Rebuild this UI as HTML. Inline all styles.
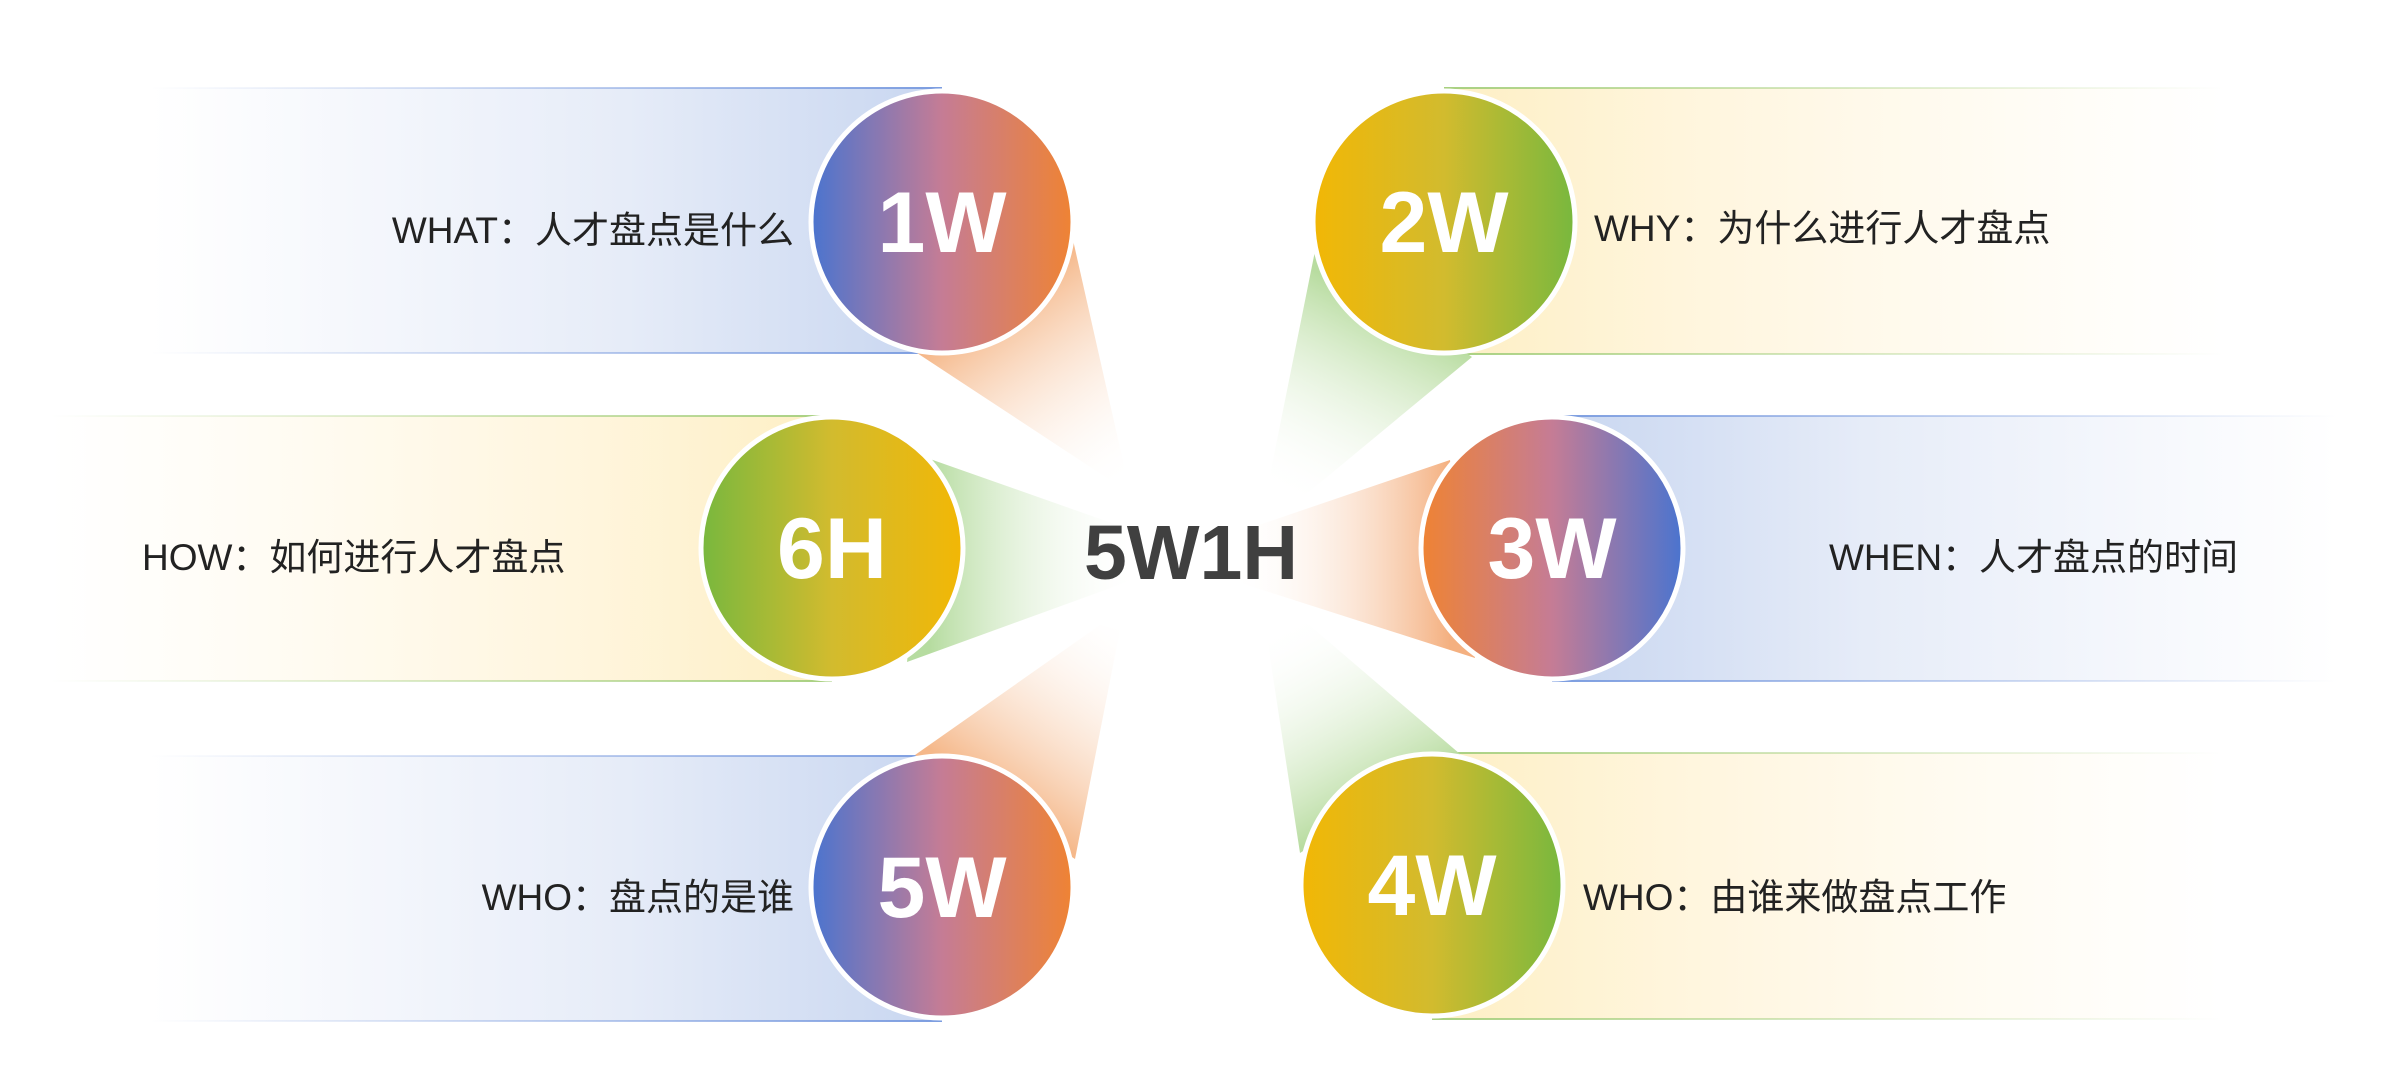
<!DOCTYPE html>
<html><head><meta charset="utf-8"><style>
html,body{margin:0;padding:0;background:#fff;width:2405px;height:1065px;overflow:hidden}
svg{display:block}
</style></head><body>
<svg width="2405" height="1065" viewBox="0 0 2405 1065" xmlns="http://www.w3.org/2000/svg">
<defs>
 <linearGradient id="cBO" x1="0" x2="1" y1="0" y2="0"><stop offset="0" stop-color="#4a74cf"/><stop offset=".5" stop-color="#c57c95"/><stop offset="1" stop-color="#ef8333"/></linearGradient>
 <linearGradient id="cOB" x1="0" x2="1" y1="0" y2="0"><stop offset="0" stop-color="#ef8333"/><stop offset=".5" stop-color="#c57c95"/><stop offset="1" stop-color="#4a74cf"/></linearGradient>
 <linearGradient id="cYG" x1="0" x2="1" y1="0" y2="0"><stop offset="0" stop-color="#f2b705"/><stop offset=".5" stop-color="#d2bb2e"/><stop offset="1" stop-color="#78b83e"/></linearGradient>
 <linearGradient id="cGY" x1="0" x2="1" y1="0" y2="0"><stop offset="0" stop-color="#78b83e"/><stop offset=".5" stop-color="#d2bb2e"/><stop offset="1" stop-color="#f2b705"/></linearGradient>
 <linearGradient id="bBL" x1="0" x2="1"><stop offset="0" stop-color="#e9eef9" stop-opacity="0"/><stop offset=".6" stop-color="#e6ecf8"/><stop offset="1" stop-color="#c8d6f0"/></linearGradient>
 <linearGradient id="bBR" x1="1" x2="0"><stop offset="0" stop-color="#e9eef9" stop-opacity="0"/><stop offset=".6" stop-color="#e6ecf8"/><stop offset="1" stop-color="#c8d6f0"/></linearGradient>
 <linearGradient id="bYL" x1="0" x2="1"><stop offset="0" stop-color="#fff8e6" stop-opacity="0"/><stop offset=".7" stop-color="#fff5dc"/><stop offset="1" stop-color="#fdefc4"/></linearGradient>
 <linearGradient id="bYR" x1="1" x2="0"><stop offset="0" stop-color="#fff8e6" stop-opacity="0"/><stop offset=".7" stop-color="#fff5dc"/><stop offset="1" stop-color="#fdefc4"/></linearGradient>
 <linearGradient id="lBL" x1="0" x2="1"><stop offset="0" stop-color="#9ab2e4" stop-opacity="0"/><stop offset="1" stop-color="#7c9de0"/></linearGradient>
 <linearGradient id="lBR" x1="1" x2="0"><stop offset="0" stop-color="#9ab2e4" stop-opacity="0"/><stop offset="1" stop-color="#7c9de0"/></linearGradient>
 <linearGradient id="lGL" x1="0" x2="1"><stop offset="0" stop-color="#b6d898" stop-opacity="0"/><stop offset="1" stop-color="#a8d080"/></linearGradient>
 <linearGradient id="lGR" x1="1" x2="0"><stop offset="0" stop-color="#b6d898" stop-opacity="0"/><stop offset="1" stop-color="#a8d080"/></linearGradient>
 <linearGradient id="w1" gradientUnits="userSpaceOnUse" x1="1000" y1="300" x2="1130" y2="480"><stop offset="0" stop-color="#f5b88a"/><stop offset="1" stop-color="#fff" stop-opacity="0"/></linearGradient>
 <linearGradient id="w5" gradientUnits="userSpaceOnUse" x1="1000" y1="800" x2="1130" y2="620"><stop offset="0" stop-color="#f5b88a"/><stop offset="1" stop-color="#fff" stop-opacity="0"/></linearGradient>
 <linearGradient id="w3" gradientUnits="userSpaceOnUse" x1="1450" y1="556" x2="1230" y2="556"><stop offset="0" stop-color="#f4b080"/><stop offset="1" stop-color="#fff" stop-opacity="0"/></linearGradient>
 <linearGradient id="w6" gradientUnits="userSpaceOnUse" x1="930" y1="556" x2="1140" y2="556"><stop offset="0" stop-color="#b6dca0"/><stop offset="1" stop-color="#fff" stop-opacity="0"/></linearGradient>
 <linearGradient id="w2" gradientUnits="userSpaceOnUse" x1="1370" y1="300" x2="1270" y2="490"><stop offset="0" stop-color="#b8dca0"/><stop offset="1" stop-color="#fff" stop-opacity="0"/></linearGradient>
 <linearGradient id="w4" gradientUnits="userSpaceOnUse" x1="1370" y1="810" x2="1270" y2="630"><stop offset="0" stop-color="#b8dca0"/><stop offset="1" stop-color="#fff" stop-opacity="0"/></linearGradient>
</defs>

<rect x="150" y="88" width="792" height="265" fill="url(#bBL)"/>
<rect x="150" y="87" width="792" height="2" fill="url(#lBL)"/><rect x="150" y="352" width="792" height="2" fill="url(#lBL)"/>
<rect x="50" y="416" width="782" height="265" fill="url(#bYL)"/>
<rect x="50" y="415" width="782" height="2" fill="url(#lGL)"/><rect x="50" y="680" width="782" height="2" fill="url(#lGL)"/>
<rect x="150" y="756" width="792" height="265" fill="url(#bBL)"/>
<rect x="150" y="755" width="792" height="2" fill="url(#lBL)"/><rect x="150" y="1020" width="792" height="2" fill="url(#lBL)"/>
<rect x="1444" y="88" width="780" height="266" fill="url(#bYR)"/>
<rect x="1444" y="87" width="780" height="2" fill="url(#lGR)"/><rect x="1444" y="353" width="780" height="2" fill="url(#lGR)"/>
<rect x="1552" y="416" width="785" height="265" fill="url(#bBR)"/>
<rect x="1552" y="415" width="785" height="2" fill="url(#lBR)"/><rect x="1552" y="680" width="785" height="2" fill="url(#lBR)"/>
<rect x="1432" y="753" width="790" height="266" fill="url(#bYR)"/>
<rect x="1432" y="752" width="790" height="2" fill="url(#lGR)"/><rect x="1432" y="1018" width="790" height="2" fill="url(#lGR)"/>

<polygon points="917,353 1073,240 1125,470 1110,480" fill="url(#w1)"/>
<polygon points="915,755 1075,859 1120,630 1100,625" fill="url(#w5)"/>
<polygon points="930,459 907,662 1160,570 1160,540" fill="url(#w6)"/>
<polygon points="1450,460 1475,658 1200,570 1200,545" fill="url(#w3)"/>
<polygon points="1315,251 1472,357 1275,520 1262,515" fill="url(#w2)"/>
<polygon points="1300,853 1460,754 1280,600 1262,605" fill="url(#w4)"/>

<g stroke="#fff" stroke-width="5">
<circle cx="942" cy="222" r="131" fill="url(#cBO)"/>
<circle cx="832" cy="548" r="131" fill="url(#cGY)"/>
<circle cx="942" cy="887" r="131" fill="url(#cBO)"/>
<circle cx="1444" cy="222" r="131" fill="url(#cYG)"/>
<circle cx="1552" cy="548" r="131" fill="url(#cOB)"/>
<circle cx="1432" cy="885" r="131" fill="url(#cYG)"/>
</g>
<g font-family="Liberation Sans, sans-serif" font-weight="bold" font-size="86" fill="#fff" text-anchor="middle">
<text x="942" y="252">1W</text>
<text x="832" y="578">6H</text>
<text x="942" y="917">5W</text>
<text x="1444" y="252">2W</text>
<text x="1552" y="578">3W</text>
<text x="1432" y="915">4W</text>
</g>
<text x="1191" y="579" text-anchor="middle" font-family="Liberation Sans, sans-serif" font-weight="bold" font-size="77" fill="#404040">5W1H</text>

<g font-family="Liberation Sans, 'Noto Sans CJK SC', sans-serif" font-size="37" fill="#222">
<text x="794" y="243" text-anchor="end">WHAT：人才盘点是什么</text>
<text x="142" y="570">HOW：如何进行人才盘点</text>
<text x="794" y="910" text-anchor="end">WHO：盘点的是谁</text>
<text x="1594" y="241">WHY：为什么进行人才盘点</text>
<text x="1829" y="570">WHEN：人才盘点的时间</text>
<text x="1583" y="910">WHO：由谁来做盘点工作</text>
</g>
</svg>
</body></html>
